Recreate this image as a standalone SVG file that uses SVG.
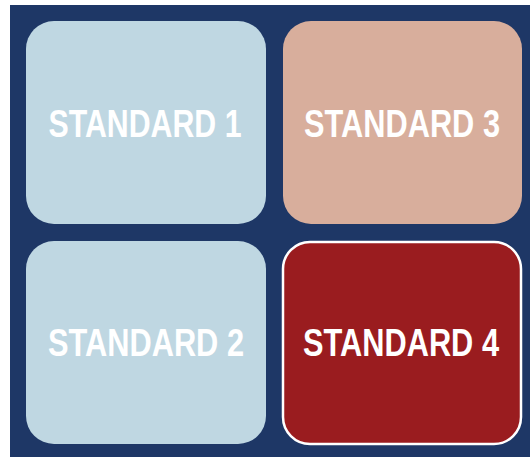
<svg xmlns="http://www.w3.org/2000/svg" width="530" height="457" viewBox="0 0 530 457">
  <style>
    .box { stroke: none; }
    .light { fill: #bfd7e2; }
    .salmon { fill: #d8ae9c; }
    .red { fill: #9a1c1f; stroke: #ffffff; stroke-width: 2.5; }
    .label { font-family: "Liberation Sans", Arial, sans-serif; font-weight: bold; font-size: 38px; fill: #ffffff; text-anchor: middle; }
  </style>
  <rect x="0" y="0" width="530" height="457" fill="#ffffff"/>
  <rect x="10" y="5" width="520" height="452" fill="#1e3766"/>
  <g id="standard-1">
    <rect class="box light" x="26" y="21" width="240" height="203" rx="28" ry="28"/>
    <text class="label" x="145" y="137" textLength="193" lengthAdjust="spacingAndGlyphs">STANDARD 1</text>
  </g>
  <g id="standard-3">
    <rect class="box salmon" x="283" y="21" width="239" height="203" rx="28" ry="28"/>
    <text class="label" x="402" y="137" textLength="196" lengthAdjust="spacingAndGlyphs">STANDARD 3</text>
  </g>
  <g id="standard-2">
    <rect class="box light" x="26" y="241" width="240" height="203" rx="28" ry="28"/>
    <text class="label" x="146" y="356" textLength="196" lengthAdjust="spacingAndGlyphs">STANDARD 2</text>
  </g>
  <g id="standard-4">
    <rect class="red" x="283" y="242" width="238" height="202" rx="27" ry="27"/>
    <text class="label" x="401" y="356" textLength="196" lengthAdjust="spacingAndGlyphs">STANDARD 4</text>
  </g>
  <g id="connectors"/>
</svg>
